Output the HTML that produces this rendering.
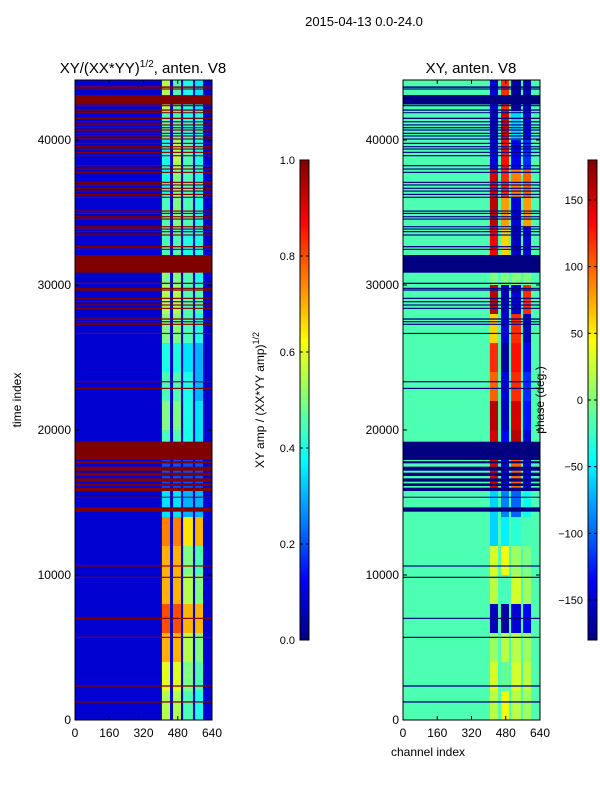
<!DOCTYPE html>
<html><head><meta charset="utf-8"><style>
body{margin:0;background:#fff;font-family:"Liberation Sans",sans-serif}
svg{display:block}
text{font-family:"Liberation Sans",sans-serif;fill:#000}
</style></head><body>
<svg id="fig" width="600" height="800" viewBox="0 0 600 800" xmlns="http://www.w3.org/2000/svg">
<text x="364" y="26" font-size="13" text-anchor="middle">2015-04-13 0.0-24.0</text>
<text x="143" y="73" font-size="15" text-anchor="middle">XY/(XX*YY)<tspan font-size="10" dy="-6">1/2</tspan><tspan dy="6">, anten. V8</tspan></text>
<text x="471" y="73" font-size="15" text-anchor="middle">XY, anten. V8</text>
<text transform="translate(21,400) rotate(-90)" font-size="12" text-anchor="middle">time index</text>
<text x="428" y="756" font-size="12" text-anchor="middle">channel index</text>
<text transform="translate(264,400) rotate(-90)" font-size="12" text-anchor="middle">XY amp / (XX*YY amp)<tspan font-size="9" dy="-5">1/2</tspan></text>
<g id="left"></g>
<g id="right"></g>
<g id="cbars"></g>
<g id="axes"></g>
<text transform="translate(544,400) rotate(-90)" font-size="12" text-anchor="middle">phase (deg.)</text>
</svg>
<script>
const timeBins=[0,2000,4000,6000,8000,10000,12000,14000,16000,18000,20000,22000,24000,26000,28000,30000,32000,34000,36000,38000,40000,42000];
const sigChannels=[[406,444],[458,495],[505,551],[561,598]];
const ampCol1=[0.55,0.6,0.7,0.8,0.7,0.7,0.75,0.35,0.2,0.45,0.5,0.45,0.4,0.5,0.55,0.5,0.45,0.45,0.4,0.4,0.45,0.55];
const ampCol2=[0.55,0.6,0.7,0.8,0.7,0.7,0.75,0.35,0.2,0.45,0.5,0.45,0.4,0.5,0.55,0.5,0.45,0.5,0.5,0.55,0.45,0.45];
const ampCol3=[0.45,0.5,0.55,0.7,0.55,0.5,0.65,0.3,0.2,0.4,0.4,0.4,0.35,0.45,0.45,0.45,0.4,0.45,0.45,0.45,0.4,0.4];
const ampCol4=[0.4,0.45,0.5,0.7,0.5,0.45,0.7,0.3,0.2,0.35,0.35,0.3,0.3,0.4,0.45,0.4,0.4,0.4,0.4,0.4,0.4,0.35];
const phCol1=[20,30,10,-160,20,30,-60,-60,150,150,160,100,120,60,160,0,140,160,150,-150,-160,-150];
const phCol2=[40,-10,20,-170,-20,40,-50,-90,-150,-140,-160,-150,-170,-150,-160,0,60,80,120,130,150,120];
const phCol3=[20,30,20,-150,30,10,-30,-100,100,160,150,120,130,120,-150,0,-160,-150,90,-140,-60,-170];
const phCol4=[10,20,10,-140,10,0,-20,-40,-150,-150,-130,-120,-140,-160,120,0,-150,80,100,-120,-150,-160];
const flagStart=[43600,43480,43000,42450,42330,42020,41850,41450,41220,41000,40810,40650,40420,40240,40030,39730,39500,39340,39110,38880,38190,37960,37730,37040,36860,36630,36440,36210,36010,35060,34900,34670,34510,33980,33820,33640,33410,32600,32420,30850,30070,29730,29610,29040,28810,28580,28350,27610,27430,27250,26620,23290,22830,17930,17700,17195,16827,16437,16138,15793,15330,14367,10580,9800,6970,5660,2300,1200];
const flagEnd=[43700,43560,43100,43060,42410,42110,41920,41540,41300,41080,40890,40730,40500,40320,40110,39810,39580,39420,39190,38960,38270,38040,37810,37120,36940,36710,36520,36290,36090,35140,34980,34750,34590,34060,33900,33720,33490,32690,32500,32070,30160,29810,29700,29120,28890,28660,28430,27700,27510,27330,26700,23370,22910,19195,17850,17471,17057,16666,16321,16023,15400,14666,10660,9880,7050,5740,2390,1290];
const ampTicks=[0,0.2,0.4,0.6,0.8,1.0];
const phTicks=[-150,-100,-50,0,50,100,150];
const yTicks=[0,10000,20000,30000,40000];
const xTicks=[0,160,320,480,640];

const NS="http://www.w3.org/2000/svg";
const Y0=720, Y1=80, TMAX=44140;
function yScale(t){return Y0-(t/TMAX)*(Y0-Y1);}
function xScale(ch,x0){return x0+ch/640*137;}
function jet(v){v=Math.max(0,Math.min(1,v));
 const c=a=>Math.round(255*Math.max(0,Math.min(1,a)));
 return `rgb(${c(1.5-Math.abs(4*v-3))},${c(1.5-Math.abs(4*v-2))},${c(1.5-Math.abs(4*v-1))})`;}
function rect(g,x,y,w,h,fill){const r=document.createElementNS(NS,'rect');
 r.setAttribute('x',x);r.setAttribute('y',y);r.setAttribute('width',w);r.setAttribute('height',h);r.setAttribute('fill',fill);
 
 
 g.appendChild(r);return r;}
function txt(g,x,y,s,anchor,size){const t=document.createElementNS(NS,'text');
 t.setAttribute('x',x);t.setAttribute('y',y);t.setAttribute('text-anchor',anchor);t.setAttribute('font-size',size||12);t.textContent=s;
 
 
 g.appendChild(t);}
function line(g,x1,y1,x2,y2,st,w){const l=document.createElementNS(NS,'line');
 l.setAttribute('x1',x1);l.setAttribute('y1',y1);l.setAttribute('x2',x2);l.setAttribute('y2',y2);l.setAttribute('stroke',st||'#000');l.setAttribute('stroke-width',w||1);
 
 
 g.appendChild(l);}

function drawPanel(g,x0,base,cols,norm,flagColor){
 rect(g,x0,Y1,137,Y0-Y1,jet(base));
 timeBins.forEach((t0,i)=>{const t1=i+1<timeBins.length?timeBins[i+1]:TMAX;
  cols.forEach((col,j)=>{const [c0,c1]=sigChannels[j];
   rect(g,xScale(c0,x0),yScale(t1),xScale(c1,x0)-xScale(c0,x0),yScale(t0)-yScale(t1),jet(norm(col[i])));});});
 flagStart.forEach((s,i)=>{const e=flagEnd[i];
  rect(g,x0,yScale(e),137,Math.max(1,yScale(s)-yScale(e)),flagColor);});
}
drawPanel(document.getElementById('left'),75,0.08,[ampCol1,ampCol2,ampCol3,ampCol4],v=>v,'#800000');
drawPanel(document.getElementById('right'),403,0.45,[phCol1,phCol2,phCol3,phCol4],v=>(v+180)/360,'#000080');

const ax=document.getElementById('axes');
[75,403].forEach(x0=>{
 const f=document.createElementNS(NS,'rect');
 f.setAttribute('x',x0);f.setAttribute('y',Y1);f.setAttribute('width',137);f.setAttribute('height',Y0-Y1);
 f.setAttribute('fill','none');f.setAttribute('stroke','#000');f.setAttribute('stroke-width',1);
 
 
 ax.appendChild(f);
 yTicks.forEach(t=>{const y=yScale(t);line(ax,x0,y,x0+4,y);line(ax,x0+137,y,x0+133,y);txt(ax,x0-4,y+4,String(t),'end',12);});
 xTicks.forEach(c=>{const x=xScale(c,x0);line(ax,x,Y0,x,Y0-4);line(ax,x,Y1,x,Y1+4);txt(ax,x,737,String(c),'middle',12);});
});
const cb=document.getElementById('cbars');
function colorbar(x0,n,tickVals,norm,fmt){
 const h=480,top=160;
 for(let i=0;i<n;i++){rect(cb,x0,top+h-(i+1)*h/n,9,h/n+0.5,jet((i+0.5)/n));}
 const f=document.createElementNS(NS,'rect');
 f.setAttribute('x',x0);f.setAttribute('y',top);f.setAttribute('width',9);f.setAttribute('height',h);
 f.setAttribute('fill','none');f.setAttribute('stroke','#000');
 
 
 cb.appendChild(f);
 tickVals.forEach(v=>{const y=top+h-norm(v)*h;line(cb,x0,y,x0+3,y);line(cb,x0+9,y,x0+6,y);txt(cb,x0-5,y+4,fmt(v),'end',11);});
}
colorbar(300,200,ampTicks,v=>v,v=>v.toFixed(1));
colorbar(588,200,phTicks,v=>(v+180)/360,v=>v<0?'\u2212'+(-v):String(v));
</script>
</body></html>
